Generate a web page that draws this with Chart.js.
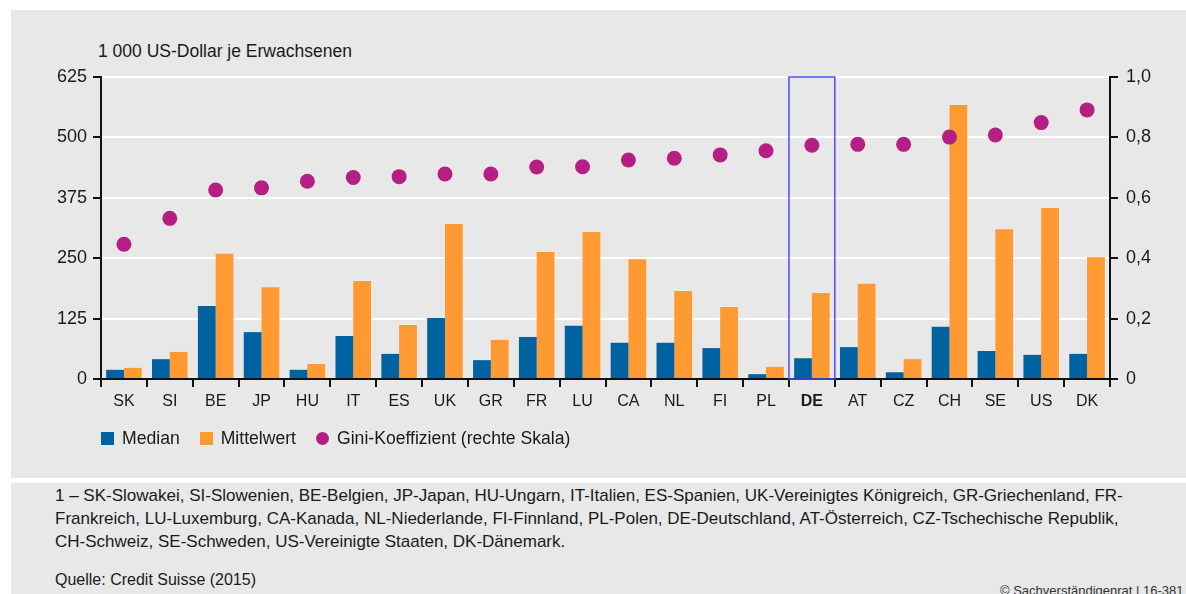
<!DOCTYPE html>
<html lang="de">
<head>
<meta charset="utf-8">
<script src="https://cdn.jsdelivr.net/npm/chart.js@4.4.1/dist/chart.umd.min.js"></script>
<style>
  html, body { margin: 0; padding: 0; background: #fff; }
  body { width: 1186px; height: 594px; position: relative; overflow: hidden; font-family: "Liberation Sans", Arial, sans-serif; color: #1a1a1a; }
  .panel { position: absolute; left: 11px; top: 10px; width: 1175px; height: 468px; background: #e8e8e8; }
  .footer { position: absolute; left: 11px; top: 483px; width: 1175px; height: 111px; background: #e8e8e8; }
  #chartWrap { position: absolute; left: 0; top: 0; width: 1186px; height: 480px; }
  .unit { position: absolute; left: 98px; top: 41px; font-size: 17.5px; }
  .legend { position: absolute; left: 101px; top: 428px; display: flex; align-items: center; font-size: 17.6px; }
  .legend span.item { display: flex; align-items: center; margin-right: 20px; }
  .legend i { display: inline-block; width: 13px; height: 13px; margin-right: 8px; }
  .legend i.dot { border-radius: 50%; }
  .notes { position: absolute; left: 55px; top: 484px; font-size: 17px; line-height: 23px; }
  .notes p { margin: 0; }
  .source { position: absolute; left: 55px; top: 571px; font-size: 16px; }
  .copy { position: absolute; left: 1000px; top: 583px; font-size: 13px; color: #333; white-space: nowrap; }
</style>
</head>
<body>
<div class="panel"></div>
<div class="footer"></div>
<div class="unit">1 000 US-Dollar je Erwachsenen</div>
<div id="chartWrap"><canvas id="vermoegen"></canvas></div>
<div class="legend" id="legend"></div>
<div class="notes">
  <p>1 – SK-Slowakei, SI-Slowenien, BE-Belgien, JP-Japan, HU-Ungarn, IT-Italien, ES-Spanien, UK-Vereinigtes Königreich, GR-Griechenland, FR-</p>
  <p>Frankreich, LU-Luxemburg, CA-Kanada, NL-Niederlande, FI-Finnland, PL-Polen, DE-Deutschland, AT-Österreich, CZ-Tschechische Republik,</p>
  <p>CH-Schweiz, SE-Schweden, US-Vereinigte Staaten, DK-Dänemark.</p>
</div>
<div class="source">Quelle: Credit Suisse (2015)</div>
<div class="copy">© Sachverständigenrat | 16-381</div>

<script>
// Länder, sortiert nach Gini-Koeffizient
const laender = ['SK', 'SI', 'BE', 'JP', 'HU', 'IT', 'ES', 'UK', 'GR', 'FR', 'LU',
  'CA', 'NL', 'FI', 'PL', 'DE', 'AT', 'CZ', 'CH', 'SE', 'US', 'DK'];

// Vermögen je Erwachsenen in 1 000 US-Dollar
const median = [19, 41, 151, 97, 19, 89, 52, 126, 39, 87, 110,
  75, 75, 64, 10, 43, 66, 14, 108, 58, 50, 52];
const mittelwert = [23, 56, 259, 190, 31, 203, 112, 321, 81, 263, 304,
  248, 182, 149, 25, 178, 197, 41, 567, 310, 354, 252];

// Gini-Koeffizient (rechte Skala)
const gini = [0.446, 0.532, 0.626, 0.633, 0.655, 0.667, 0.670, 0.679, 0.679, 0.702, 0.703,
  0.725, 0.731, 0.742, 0.756, 0.774, 0.777, 0.777, 0.801, 0.808, 0.849, 0.891];

const linksTicks = [0, 125, 250, 375, 500, 625];
const rechtsTicks = [0, 0.2, 0.4, 0.6, 0.8, 1.0];
const hervorgehoben = 'DE';

const farben = { median: '#0062a1', mittel: '#ff9a33', gini: '#b51f84' };

// Rahmen um das hervorgehobene Land
const rahmenPlugin = {
  id: 'rahmen',
  afterDatasetsDraw(chart) {
    const x = chart.scales.x;
    const i = laender.indexOf(hervorgehoben);
    const band = (x.right - x.left) / laender.length;
    const mitte = x.getPixelForValue(i);
    const { top, bottom } = chart.chartArea;
    const ctx = chart.ctx;
    ctx.save();
    ctx.strokeStyle = '#4b4bff';
    ctx.lineWidth = 1.5;
    ctx.strokeRect(mitte - band / 2, top, band, bottom - top);
    ctx.restore();
  }
};

const fontBasis = { family: '"Liberation Sans", Arial, sans-serif', size: 18 };

const chart = new Chart(document.getElementById('vermoegen'), {
  type: 'bar',
  data: {
    labels: laender,
    datasets: [
      {
        type: 'line',
        label: 'Gini-Koeffizient (rechte Skala)',
        data: gini,
        yAxisID: 'y1',
        showLine: false,
        pointRadius: 7.5,
        pointHoverRadius: 7.5,
        pointBackgroundColor: farben.gini,
        pointBorderWidth: 0,
        backgroundColor: farben.gini,
        order: 0
      },
      {
        label: 'Median',
        data: median,
        backgroundColor: farben.median,
        yAxisID: 'y',
        order: 1
      },
      {
        label: 'Mittelwert',
        data: mittelwert,
        backgroundColor: farben.mittel,
        yAxisID: 'y',
        order: 1
      }
    ]
  },
  options: {
    responsive: true,
    maintainAspectRatio: false,
    animation: false,
    datasets: { bar: { categoryPercentage: 0.775, barPercentage: 1.0 } },
    layout: { padding: { left: 11, right: 0, top: 77, bottom: 61 } },
    plugins: { legend: { display: false }, tooltip: { enabled: false } },
    scales: {
      x: {
        offset: true,
        border: { color: '#111', width: 2 },
        grid: { offset: true, drawOnChartArea: false, color: '#111', lineWidth: 2, tickLength: 8 },
        ticks: {
          color: '#1a1a1a',
          padding: 5,
          maxRotation: 0,
          font: ctx => ({ ...fontBasis, size: 16, weight: laender[ctx.index] === hervorgehoben ? 'bold' : 'normal' })
        },
        afterFit: s => { s.height = 40; }
      },
      y: {
        position: 'left',
        min: 0,
        max: 625,
        afterBuildTicks: s => { s.ticks = linksTicks.map(v => ({ value: v })); },
        border: { color: '#111', width: 2 },
        grid: { color: '#ffffff', lineWidth: 2, tickColor: '#111', tickLength: 8 },
        ticks: { color: '#1a1a1a', padding: 6, font: fontBasis, callback: v => v },
        afterFit: s => { s.width = 90; }
      },
      y1: {
        position: 'right',
        min: 0,
        max: 1,
        afterBuildTicks: s => { s.ticks = rechtsTicks.map(v => ({ value: v })); },
        border: { color: '#111', width: 2 },
        grid: { drawOnChartArea: false, color: '#111', lineWidth: 2, tickLength: 8 },
        ticks: {
          color: '#1a1a1a',
          padding: 8,
          font: fontBasis,
          callback: v => v === 0 ? '0' : v.toFixed(1).replace('.', ',')
        },
        afterFit: s => { s.width = 76; }
      }
    }
  },
  plugins: [rahmenPlugin]
});

// Legende in der Reihenfolge Median, Mittelwert, Gini
const legende = document.getElementById('legend');
[1, 2, 0].forEach(i => {
  const ds = chart.data.datasets[i];
  const item = document.createElement('span');
  item.className = 'item';
  item.innerHTML = `<i class="${ds.type === 'line' ? 'dot' : ''}" style="background:${ds.backgroundColor}"></i>${ds.label}`;
  legende.appendChild(item);
});
</script>
</body>
</html>
